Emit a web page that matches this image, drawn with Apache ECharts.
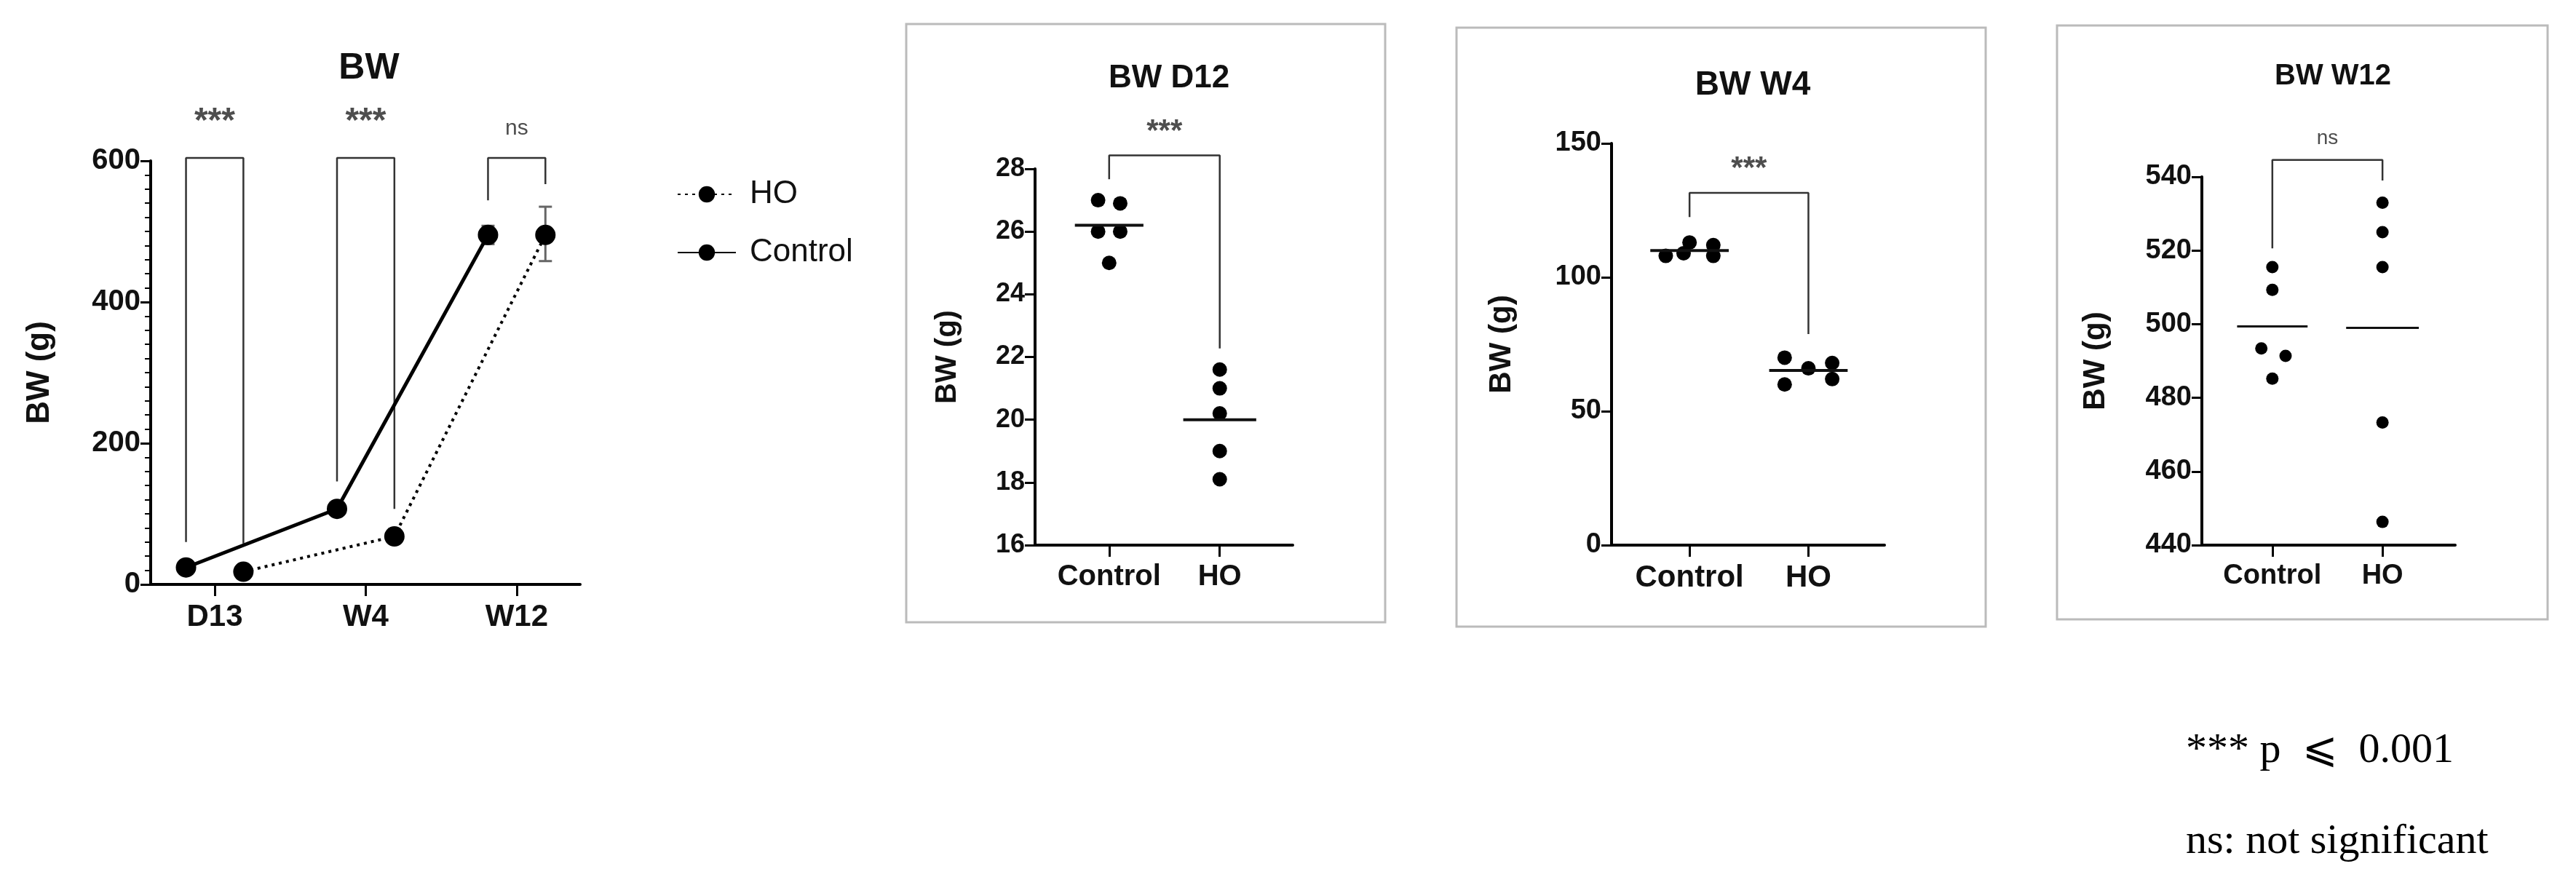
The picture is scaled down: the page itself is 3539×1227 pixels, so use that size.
<!DOCTYPE html>
<html><head><meta charset="utf-8">
<script src="https://cdn.jsdelivr.net/npm/echarts@6/dist/echarts.min.js"></script>
<style>html,body{margin:0;background:#fff}#c{width:3539px;height:1227px}</style>
</head><body><div id="c"></div>
<script>
// panel 1: means over time
var timePoints = ['D13', 'W4', 'W12'];
var controlMean = [24, 107, 495];
var controlErr = [[24, 24], [107, 107], [482, 508]];
var hoMean = [18, 68, 495];
var hoErr = [[18, 18], [68, 68], [458, 535]];
var bwTicks = [0, 200, 400, 600];
var stars1 = ['***', '***', 'ns'];
// bracket legs [left bottom, top, right bottom]
var brackets1 = [[60, 604, 58], [146, 604, 107], [544, 604, 567]];

// individual panels
var groups = ['Control', 'HO'];
var d12Control = [27.0, 26.9, 26.0, 26.0, 25.0];
var d12Ho = [21.6, 21.0, 20.2, 19.0, 18.1];
var d12Mean = [26.2, 20.0];
var w4Control = [108, 113, 112, 108, 109];
var w4Ho = [70, 60, 66, 68, 62];
var w4Mean = [110, 65.2];
var w12Control = [515.5, 509.3, 493.4, 491.4, 485.2];
var w12Ho = [533, 525, 515.5, 473.3, 446.3];
var w12Mean = [499.4, 499.0];

var font = '"Liberation Sans Narrow", "Liberation Sans", Arial, sans-serif';
var chart = echarts.init(document.getElementById('c'));

function xAx(idx, min, max, names, size) {
	return {
		type: 'value', gridIndex: idx, min: min, max: max,
		splitLine: {show: false},
		axisLine: {lineStyle: {color: '#000', width: 4}},
		axisTick: {customValues: [1, 2, 3].slice(0, names.length), length: 16, lineStyle: {color: '#000', width: 3}},
		axisLabel: {customValues: [1, 2, 3].slice(0, names.length), margin: 24,
			formatter: function(v) { return names[Math.round(v) - 1]; },
			color: '#111', fontSize: size, fontWeight: 'bold', fontFamily: font}
	};
}
function yAx(idx, min, max, interval, size, minor, gap) {
	return {
		type: 'value', gridIndex: idx, min: min, max: max, interval: interval,
		name: 'BW (g)', nameLocation: 'middle', nameGap: gap,
		nameTextStyle: {fontSize: size + 4, fontWeight: 'bold', fontFamily: font, color: '#111'},
		splitLine: {show: false},
		axisLine: {show: true, lineStyle: {color: '#000', width: 4}},
		axisTick: {show: true, length: 14, lineStyle: {color: '#000', width: 3}},
		minorTick: {show: !!minor, splitNumber: 10, length: 8, lineStyle: {color: '#000', width: 2}},
		axisLabel: {color: '#111', fontSize: size, fontWeight: 'bold', fontFamily: font, margin: 14}
	};
}
function pts(vals, x, offs) {
	return vals.map(function(v, i) { return [x + (offs ? offs[i] : 0), v]; });
}
function bracketSeries(idx, x1, x2, b) {
	return {type: 'line', xAxisIndex: idx, yAxisIndex: idx, symbol: 'none', silent: true, clip: false,
		lineStyle: {color: '#333', width: 2.5},
		data: [[x1, b[0]], [x1, b[1]], [x2, b[1]], [x2, b[2]]]};
}
function labelSeries(idx, x, y, text, size, weight) {
	return {type: 'scatter', xAxisIndex: idx, yAxisIndex: idx, symbolSize: 0, silent: true, clip: false,
		data: [[x, y]],
		label: {show: true, position: 'top', distance: 6, formatter: text,
			fontSize: size, fontWeight: weight, color: '#222', fontFamily: font}};
}
function meanSeries(idx, x, y, half, w) {
	return {type: 'line', xAxisIndex: idx, yAxisIndex: idx, symbol: 'none', silent: true, clip: false,
		lineStyle: {color: '#111', width: w}, data: [[x - half, y], [x + half, y]]};
}
function dots(idx, data, size) {
	return {type: 'scatter', xAxisIndex: idx, yAxisIndex: idx, symbolSize: size, clip: false,
		itemStyle: {color: '#000', opacity: 1}, data: data};
}

var off = 0.19;
var series = [];
// panel 1
brackets1.forEach(function(b, i) {
	series.push(bracketSeries(0, i + 1 - off, i + 1 + off, b));
	series.push(labelSeries(0, i + 1, b[1] + 20, stars1[i], stars1[i] === 'ns' ? 30 : 48, stars1[i] === 'ns' ? 'normal' : 'bold'));
});
series.push({
	type: 'custom', xAxisIndex: 0, yAxisIndex: 0, silent: true, clip: false,
	data: controlErr.map(function(e, i) { return [i + 1 - off, e[0], e[1]]; })
		.concat(hoErr.map(function(e, i) { return [i + 1 + off, e[0], e[1]]; })),
	renderItem: function(params, api) {
		var lo = api.coord([api.value(0), api.value(1)]);
		var hi = api.coord([api.value(0), api.value(2)]);
		var s = {stroke: '#666', lineWidth: 3};
		return {type: 'group', children: [
			{type: 'line', shape: {x1: lo[0], y1: lo[1], x2: hi[0], y2: hi[1]}, style: s},
			{type: 'line', shape: {x1: lo[0] - 9, y1: lo[1], x2: lo[0] + 9, y2: lo[1]}, style: s},
			{type: 'line', shape: {x1: hi[0] - 9, y1: hi[1], x2: hi[0] + 9, y2: hi[1]}, style: s}
		]};
	}
});
series.push({name: 'HO', type: 'line', xAxisIndex: 0, yAxisIndex: 0, symbol: 'circle', symbolSize: 28, clip: false,
	itemStyle: {color: '#000'}, lineStyle: {color: '#000', width: 4, type: [4, 6]},
	data: pts(hoMean, 1 + off, [0, 1, 2])});
series.push({name: 'Control', type: 'line', xAxisIndex: 0, yAxisIndex: 0, symbol: 'circle', symbolSize: 28, clip: false,
	itemStyle: {color: '#000'}, lineStyle: {color: '#000', width: 5},
	data: pts(controlMean, 1 - off, [0, 1, 2])});

// panel 2
series.push(bracketSeries(1, 1, 2, [27.67, 28.43, 22.27]));
series.push(labelSeries(1, 1.5, 28.55, '***', 42, 'bold'));
series.push(meanSeries(1, 1, d12Mean[0], 0.31, 4), meanSeries(1, 2, d12Mean[1], 0.33, 4));
series.push(dots(1, pts(d12Control, 1, [-0.1, 0.1, -0.1, 0.1, 0]), 20));
series.push(dots(1, pts(d12Ho, 2), 20));
// panel 3
series.push(bracketSeries(2, 1, 2, [122.5, 131.5, 78.8]));
series.push(labelSeries(2, 1.5, 133, '***', 42, 'bold'));
series.push(meanSeries(2, 1, w4Mean[0], 0.33, 4), meanSeries(2, 2, w4Mean[1], 0.33, 4));
series.push(dots(2, pts(w4Control, 1, [-0.2, 0, 0.2, 0.2, -0.05]), 20));
series.push(dots(2, pts(w4Ho, 2, [-0.2, -0.2, 0, 0.2, 0.2]), 20));
// panel 4
series.push(bracketSeries(3, 1, 2, [520.6, 544.6, 539]));
series.push(labelSeries(3, 1.5, 546.5, 'ns', 28, 'normal'));
series.push(meanSeries(3, 1, w12Mean[0], 0.32, 3), meanSeries(3, 2, w12Mean[1], 0.33, 3));
series.push(dots(3, pts(w12Control, 1, [0, 0, -0.1, 0.12, 0]), 17));
series.push(dots(3, pts(w12Ho, 2), 17));

chart.setOption({
	animation: false,
	title: [
		{text: 'BW', left: 502, top: 89, textAlign: 'center', textVerticalAlign: 'middle', textStyle: {fontSize: 50, fontWeight: 'bold', fontFamily: font, color: '#111'}},
		{text: 'BW D12', left: 1601, top: 103, textAlign: 'center', textVerticalAlign: 'middle', textStyle: {fontSize: 44, fontWeight: 'bold', fontFamily: font, color: '#111'}},
		{text: 'BW W4', left: 2403, top: 112, textAlign: 'center', textVerticalAlign: 'middle', textStyle: {fontSize: 46, fontWeight: 'bold', fontFamily: font, color: '#111'}},
		{text: 'BW W12', left: 3200, top: 100, textAlign: 'center', textVerticalAlign: 'middle', textStyle: {fontSize: 40, fontWeight: 'bold', fontFamily: 'Liberation Sans, sans-serif', color: '#111'}}
	],
	legend: {left: 925, top: 240, orient: 'vertical', itemGap: 36, itemWidth: 80, itemHeight: 28,
		data: ['HO', 'Control'], textStyle: {fontSize: 44, fontFamily: font, color: '#111', padding: [0, 0, 0, 14]}},
	graphic: [
		{type: 'rect', shape: {x: 1245, y: 33, width: 658, height: 822}, style: {fill: 'none', stroke: '#bbb', lineWidth: 3}},
		{type: 'rect', shape: {x: 2001, y: 38, width: 727, height: 823}, style: {fill: 'none', stroke: '#bbb', lineWidth: 3}},
		{type: 'rect', shape: {x: 2826, y: 35, width: 674, height: 816}, style: {fill: 'none', stroke: '#bbb', lineWidth: 3}},
		{type: 'text', left: 3003, top: 1003, style: {text: '*** p  \u2A7D  0.001', fontSize: 58, fontFamily: 'Liberation Serif, serif', fill: '#000'}},
		{type: 'text', left: 3003, top: 1128, style: {text: 'ns: not significant', fontSize: 58, fontFamily: 'Liberation Serif, serif', fill: '#000'}}
	],
	grid: [
		{left: 207, top: 221, width: 590, height: 582},
		{left: 1422, top: 232, width: 354, height: 517},
		{left: 2214, top: 197, width: 375, height: 552},
		{left: 3025, top: 243, width: 348, height: 506}
	],
	xAxis: [
		xAx(0, 0.576, 3.42, timePoints, 42),
		xAx(1, 0.33, 2.66, groups, 40),
		xAx(2, 0.344, 2.64, groups, 42),
		xAx(3, 0.36, 2.66, groups, 38)
	],
	yAxis: [
		yAx(0, bwTicks[0], bwTicks[bwTicks.length - 1], 200, 40, true, 130),
		yAx(1, 16, 28, 2, 36, false, 100),
		yAx(2, 0, 150, 50, 38, false, 130),
		yAx(3, 440, 540, 20, 38, false, 125)
	],
	series: series
});
</script>
</body></html>
